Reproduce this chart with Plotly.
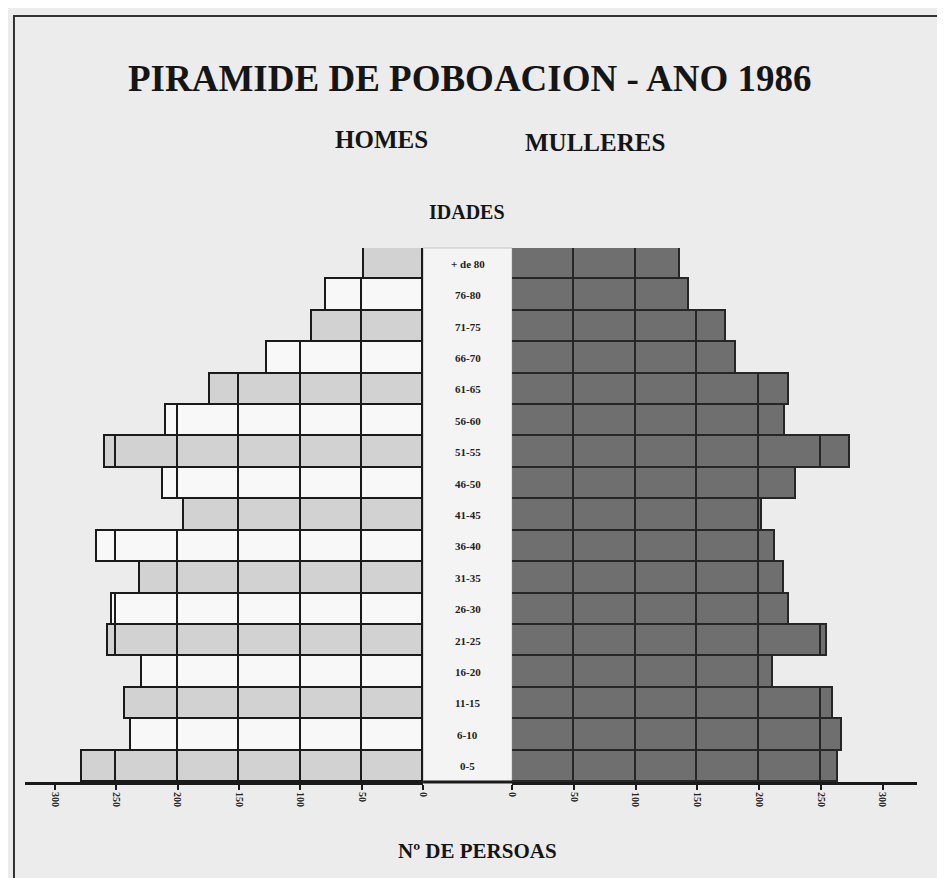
import plotly.graph_objects as go

ages = ["+ de 80", "76-80", "71-75", "66-70", "61-65", "56-60", "51-55", "46-50", "41-45",
        "36-40", "31-35", "26-30", "21-25", "16-20", "11-15", "6-10", "0-5"]
homes = [48, 79, 91, 127, 174, 210, 259, 212, 195, 266, 231, 254, 257, 229, 243, 238, 278]
mulleres = [136, 143, 173, 181, 224, 221, 274, 230, 202, 213, 220, 224, 255, 211, 260, 267, 264]
tick_vals = [0, 50, 100, 150, 200, 250, 300]
step = 50

# the page body has an 8px margin, so work in window pixels and convert
OFF = 8
W, H = 945 - OFF, 878 - OFF
SERIF = "Liberation Serif, Times New Roman, serif"


def px(x):
    return (x - OFF) / W


def py(y):
    return 1 - (y - OFF) / H


def segments(values, k):
    # split each bar into 50-person cells so the grid shows only inside the bars
    out = []
    for v in values:
        w = min(max(v - k * step, 0), step)
        out.append(w if w > 0 else None)
    return out


fig = go.Figure()

homes_fill = ["#d2d2d2" if i % 2 == 0 else "#f8f8f8" for i in range(len(ages))]
for k in range(len(tick_vals)):
    fig.add_trace(go.Bar(
        y=ages, x=segments(homes, k), orientation="h",
        xaxis="x", yaxis="y",
        marker=dict(color=homes_fill, line=dict(color="#1a1a1a", width=1.6)),
        showlegend=False, hoverinfo="skip",
    ))
    fig.add_trace(go.Bar(
        y=ages, x=segments(mulleres, k), orientation="h",
        xaxis="x2", yaxis="y",
        marker=dict(color="#6f6f6f", line=dict(color="#262626", width=1.6)),
        showlegend=False, hoverinfo="skip",
    ))

y0, y1 = py(782), py(248)
axis_common = dict(
    tickvals=tick_vals, ticktext=[str(t) for t in tick_vals], tickangle=90,
    ticks="outside", ticklen=5, tickwidth=2, tickcolor="#1a1a1a",
    showline=True, linecolor="#1a1a1a", linewidth=3,
    showgrid=False, zeroline=False, anchor="y",
    tickfont=dict(family=SERIF, size=10, color="#222", weight="bold"),
)
fig.update_layout(
    width=W, height=H,
    margin=dict(l=0, r=0, t=0, b=0),
    paper_bgcolor="#ececec", plot_bgcolor="rgba(0,0,0,0)",
    barmode="stack", bargap=0,
    xaxis=dict(domain=[px(20), px(423)], range=[(423 - 20) / 1.242, 0], **axis_common),
    xaxis2=dict(domain=[px(513), px(923)], range=[0, (923 - 513) / 1.25], **axis_common),
    yaxis=dict(domain=[y0, y1], autorange="reversed", showticklabels=False,
               showgrid=False, zeroline=False, showline=False, ticks=""),
)

# box holding the age labels between the two halves
fig.add_shape(type="rect", xref="paper", yref="paper",
              x0=px(423), x1=px(513), y0=y0, y1=y1,
              fillcolor="#f4f4f4", line=dict(color="#c4c4c4", width=1), layer="below")
fig.add_shape(type="line", xref="paper", yref="paper",
              x0=px(423), x1=px(513), y0=y0, y1=y0,
              line=dict(color="#1a1a1a", width=3))

for a in ages:
    fig.add_annotation(x=px(468), xref="paper", y=a, yref="y", text=a, showarrow=False,
                       xanchor="center", yanchor="middle",
                       font=dict(family=SERIF, size=11, color="#222", weight="bold"))

# page frame
fig.add_shape(type="line", xref="paper", yref="paper", x0=0, x1=1, y0=py(16), y1=py(16),
              line=dict(color="#333", width=2))
fig.add_shape(type="line", xref="paper", yref="paper", x0=px(9), x1=px(9), y0=0, y1=py(16),
              line=dict(color="#333", width=2))

texts = [
    ("PIRAMIDE DE POBOACION - ANO 1986", 470, 78, 37),
    ("HOMES", 381, 140, 25),
    ("MULLERES", 597, 143, 25),
    ("IDADES", 467, 212, 20),
    ("Nº DE PERSOAS", 478, 851, 21),
]
for t, x, y, s in texts:
    fig.add_annotation(x=px(x), y=py(y), xref="paper", yref="paper", text=t, showarrow=False,
                       xanchor="center", yanchor="middle",
                       font=dict(family=SERIF, size=s, color="#151515", weight="bold"))

fig.write_html("out.html")
